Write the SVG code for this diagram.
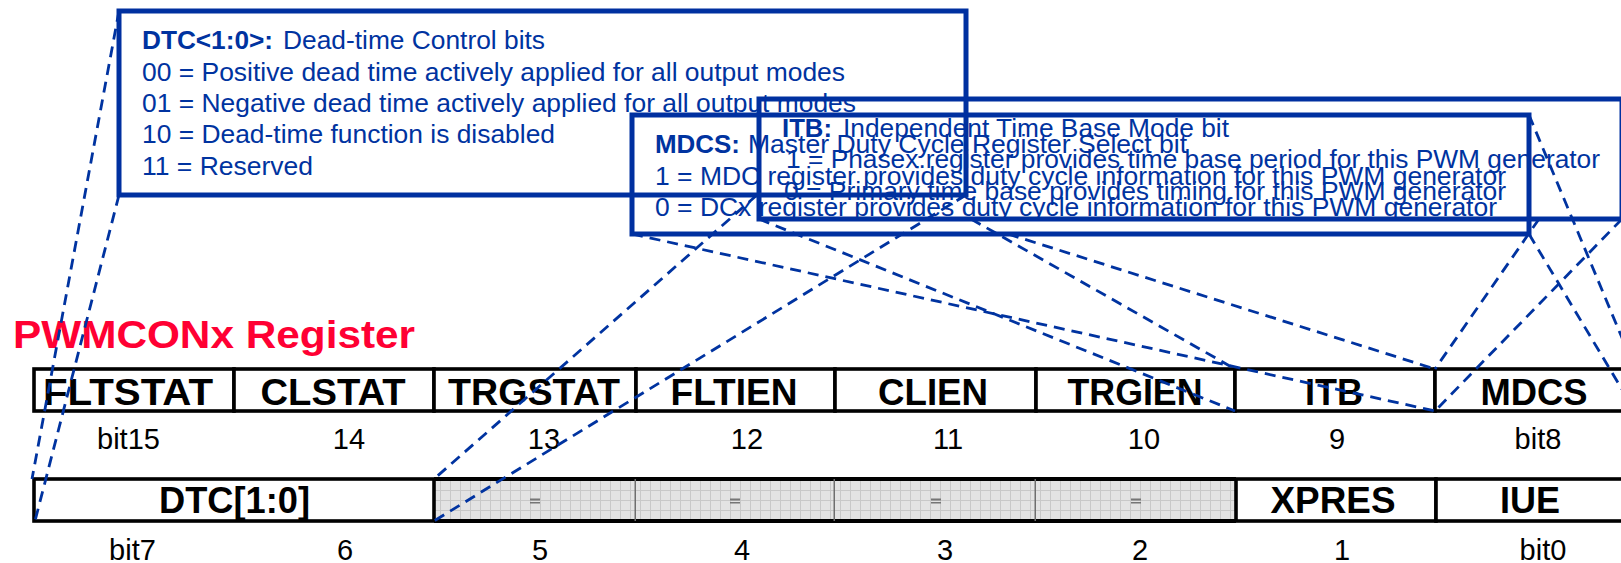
<svg xmlns="http://www.w3.org/2000/svg" width="1621" height="563" viewBox="0 0 1621 563">
<style>
text{font-family:"Liberation Sans",Arial,sans-serif}
.title{font-weight:bold;font-size:39px;fill:#ff0033}
.cell{font-weight:bold;font-size:37px;fill:#000;text-anchor:middle}
.num{font-size:29px;fill:#000;text-anchor:middle}
.note{font-size:25px;fill:#0033a0}
.b{font-weight:bold}
.box{fill:none;stroke:#0030a0;stroke-width:5}
.reg{fill:#fff;stroke:#000;stroke-width:3.6}
.res{fill:url(#grid);stroke:none}
.edge{stroke:#000;stroke-width:4}
.gdiv{stroke:#6e6e6e;stroke-width:3}
.mark{fill:#767676}
.lead{stroke:#0033a0;stroke-width:2.8;stroke-dasharray:11 7;fill:none}
</style>
<defs>
<pattern id="grid" width="10" height="10" patternUnits="userSpaceOnUse">
<rect width="10" height="10" fill="#e3e3e3"/>
<path d="M0 0.5H10M0.5 0V10" stroke="#c8c8c8" stroke-width="1"/>
</pattern>
</defs>
<rect width="1621" height="563" fill="#fff"/>

<text class="title" x="13" y="348" textLength="402" lengthAdjust="spacingAndGlyphs">PWMCONx Register</text>

<!-- upper byte: bits 15..8 -->
<g id="bit15-fltstat"><rect class="reg" x="34" y="369" width="200" height="42"/><text class="cell" x="128" y="405" textLength="170" lengthAdjust="spacingAndGlyphs">FLTSTAT</text></g>
<g id="bit14-clstat"><rect class="reg" x="234" y="369" width="200" height="42"/><text class="cell" x="333" y="405" textLength="145" lengthAdjust="spacingAndGlyphs">CLSTAT</text></g>
<g id="bit13-trgstat"><rect class="reg" x="434" y="369" width="202" height="42"/><text class="cell" x="534" y="405" textLength="172" lengthAdjust="spacingAndGlyphs">TRGSTAT</text></g>
<g id="bit12-fltien"><rect class="reg" x="636" y="369" width="199" height="42"/><text class="cell" x="734" y="405" textLength="127" lengthAdjust="spacingAndGlyphs">FLTIEN</text></g>
<g id="bit11-clien"><rect class="reg" x="835" y="369" width="201" height="42"/><text class="cell" x="933" y="405" textLength="110" lengthAdjust="spacingAndGlyphs">CLIEN</text></g>
<g id="bit10-trgien"><rect class="reg" x="1036" y="369" width="199" height="42"/><text class="cell" x="1135" y="405" textLength="135" lengthAdjust="spacingAndGlyphs">TRGIEN</text></g>
<g id="bit9-itb"><rect class="reg" x="1235" y="369" width="200" height="42"/><text class="cell" x="1334" y="405" textLength="58" lengthAdjust="spacingAndGlyphs">ITB</text></g>
<g id="bit8-mdcs"><rect class="reg" x="1435" y="369" width="200" height="42"/><text class="cell" x="1534" y="405" textLength="107" lengthAdjust="spacingAndGlyphs">MDCS</text></g>

<!-- lower byte: bits 7..0 -->
<g id="bit5-reserved"><rect class="res" x="434" y="479" width="202" height="42"/><path class="edge" d="M434 479H636M434 521H636"/><path class="gdiv" d="M636 479V521"/><path class="mark" d="M530 498.5h10v2h-10zM530 502h10v1.5h-10z"/></g>
<g id="bit4-reserved"><rect class="res" x="636" y="479" width="199" height="42"/><path class="edge" d="M636 479H835M636 521H835"/><path class="gdiv" d="M835 479V521"/><path class="mark" d="M730 498.5h10v2h-10zM730 502h10v1.5h-10z"/></g>
<g id="bit3-reserved"><rect class="res" x="835" y="479" width="201" height="42"/><path class="edge" d="M835 479H1036M835 521H1036"/><path class="gdiv" d="M1036 479V521"/><path class="mark" d="M931 498.5h10v2h-10zM931 502h10v1.5h-10z"/></g>
<g id="bit2-reserved"><rect class="res" x="1036" y="479" width="200" height="42"/><path class="edge" d="M1036 479H1236M1036 521H1236"/><path class="mark" d="M1131 498.5h10v2h-10zM1131 502h10v1.5h-10z"/></g>
<g id="bit7-6-dtc"><rect class="reg" x="34" y="479" width="400" height="42"/><text class="cell" x="234.5" y="513" textLength="151" lengthAdjust="spacingAndGlyphs">DTC[1:0]</text></g>
<g id="bit1-xpres"><rect class="reg" x="1236" y="479" width="200" height="42"/><text class="cell" x="1333" y="513" textLength="125" lengthAdjust="spacingAndGlyphs">XPRES</text></g>
<g id="bit0-iue"><rect class="reg" x="1436" y="479" width="200" height="42"/><text class="cell" x="1530" y="513" textLength="60" lengthAdjust="spacingAndGlyphs">IUE</text></g>

<!-- bit positions -->
<g id="bit-numbers">
<text class="num" x="128.5" y="449">bit15</text>
<text class="num" x="349" y="449">14</text>
<text class="num" x="544" y="449">13</text>
<text class="num" x="747" y="449">12</text>
<text class="num" x="948" y="449">11</text>
<text class="num" x="1144" y="449">10</text>
<text class="num" x="1337" y="449">9</text>
<text class="num" x="1538" y="449">bit8</text>
<text class="num" x="132.5" y="560">bit7</text>
<text class="num" x="345" y="560">6</text>
<text class="num" x="540" y="560">5</text>
<text class="num" x="742" y="560">4</text>
<text class="num" x="945" y="560">3</text>
<text class="num" x="1140" y="560">2</text>
<text class="num" x="1342" y="560">1</text>
<text class="num" x="1543" y="560">bit0</text>
</g>

<!-- leader lines from each description box to its bit field (drawn only outside the own box) -->
<g id="connectors">
<path class="lead" d="M119 11L32 479"/>
<path class="lead" d="M119 195L35 521"/>
<path class="lead" d="M757 195L434 479"/>
<path class="lead" d="M966 195L434 521"/>
<path class="lead" d="M971 219L1235 369"/>
<path class="lead" d="M759 219L1235 411"/>
<path class="lead" d="M1539 219L1435 369"/>
<path class="lead" d="M1622 219L1435 411"/>
<path class="lead" d="M1008 234L1435 369"/>
<path class="lead" d="M632 234L1435 411"/>
<path class="lead" d="M1529 115L1635 369"/>
<path class="lead" d="M1529 234L1635 411"/>
</g>

<!-- description boxes -->
<g id="desc-dtc">
<rect class="box" x="119" y="11" width="847" height="184"/>
<text class="note b" x="142" y="49" textLength="131" lengthAdjust="spacingAndGlyphs">DTC&lt;1:0&gt;:</text>
<text class="note" x="283" y="49" textLength="262" lengthAdjust="spacingAndGlyphs">Dead-time Control bits</text>
<text class="note" x="142" y="81" textLength="703" lengthAdjust="spacingAndGlyphs">00 = Positive dead time actively applied for all output modes</text>
<text class="note" x="142" y="112" textLength="714" lengthAdjust="spacingAndGlyphs">01 = Negative dead time actively applied for all output modes</text>
<text class="note" x="142" y="143" textLength="413" lengthAdjust="spacingAndGlyphs">10 = Dead-time function is disabled</text>
<text class="note" x="142" y="175" textLength="171" lengthAdjust="spacingAndGlyphs">11 = Reserved</text>
</g>
<g id="desc-mdcs">
<rect class="box" x="632" y="115" width="897" height="119"/>
<text class="note b" x="655" y="152.5" textLength="85" lengthAdjust="spacingAndGlyphs">MDCS:</text>
<text class="note" x="748" y="152.5" textLength="439" lengthAdjust="spacingAndGlyphs">Master Duty Cycle Register Select bit</text>
<text class="note" x="655" y="184.5" textLength="851" lengthAdjust="spacingAndGlyphs">1 = MDC register provides duty cycle information for this PWM generator</text>
<text class="note" x="655" y="215.5" textLength="842" lengthAdjust="spacingAndGlyphs">0 = DCx register provides duty cycle information for this PWM generator</text>
</g>
<g id="desc-itb">
<rect class="box" x="759" y="99" width="863" height="120"/>
<text class="note b" x="782" y="136.5" textLength="50" lengthAdjust="spacingAndGlyphs">ITB:</text>
<text class="note" x="843" y="136.5" textLength="386" lengthAdjust="spacingAndGlyphs">Independent Time Base Mode bit</text>
<text class="note" x="786" y="168" textLength="814" lengthAdjust="spacingAndGlyphs">1 = Phasex.register provides time base period for this PWM generator</text>
<text class="note" x="784" y="199.5" textLength="722" lengthAdjust="spacingAndGlyphs">0 = Primary time base provides timing for this PWM generator</text>
</g>
</svg>
